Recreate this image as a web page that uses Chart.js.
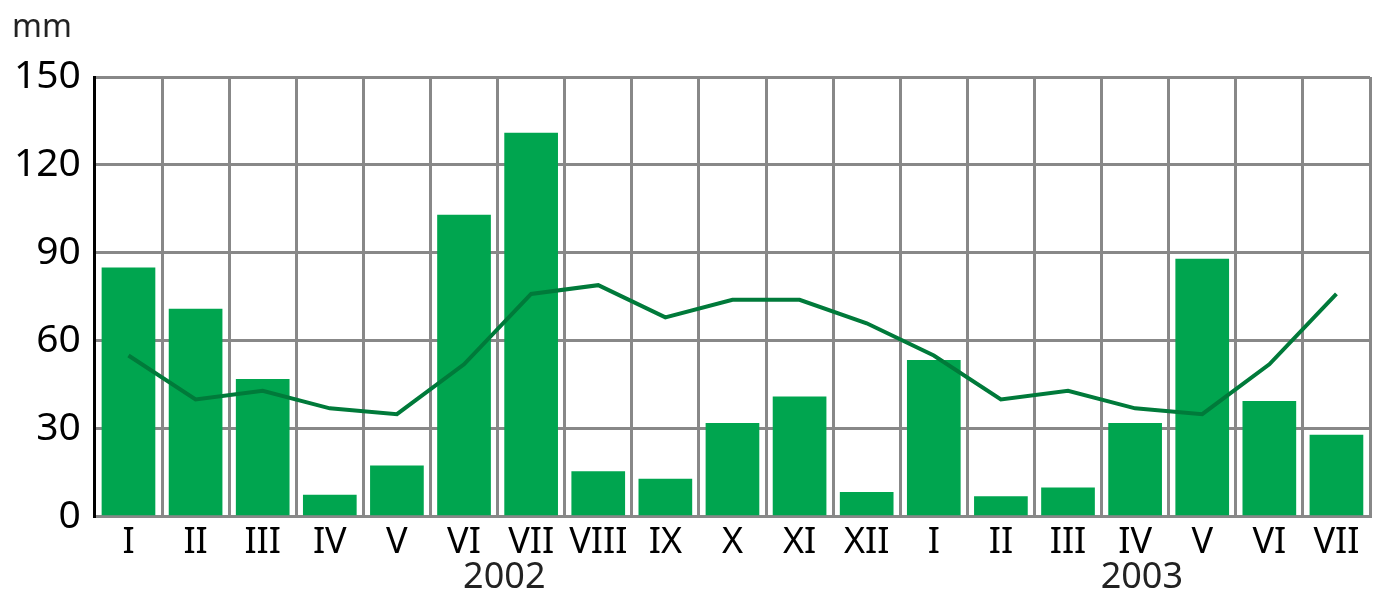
<!DOCTYPE html>
<html>
<head>
<meta charset="utf-8">
<script src="https://cdn.jsdelivr.net/npm/chart.js@4/dist/chart.umd.min.js"></script>
<style>
  html, body { margin: 0; padding: 0; background: #fff; }
  #wrap { width: 1378px; height: 592px; }
</style>
</head>
<body>
<div id="wrap"><canvas id="chart"></canvas></div>
<script>
// months, two years
const months = ['I','II','III','IV','V','VI','VII','VIII','IX','X','XI','XII','I','II','III','IV','V','VI','VII'];
// monthly precipitation (bars)
const precipitation = [85, 71, 47, 7.5, 17.5, 103, 131, 15.5, 13, 32, 41, 8.5, 53.5, 7, 10, 32, 88, 39.5, 28];
// long-term average (line)
const average = [55, 40, 43, 37, 35, 52, 76, 79, 68, 74, 74, 66, 55, 40, 43, 37, 35, 52, 76];
const yTicks = [0, 30, 60, 90, 120, 150];
const years = ['2002', '2003'];

const font = "'Noto Sans', sans-serif";

// unit label and year labels
const extraText = {
  id: 'extraText',
  afterDraw(chart) {
    const ctx = chart.ctx;
    const x = chart.scales.x;
    ctx.save();
    ctx.fillStyle = '#222';
    ctx.font = '32px ' + font;
    ctx.textAlign = 'left';
    ctx.textBaseline = 'alphabetic';
    ctx.fillText('mm', 12, 37);
    ctx.font = '36px ' + font;
    ctx.textAlign = 'center';
    ctx.fillText(years[0], x.getPixelForValue(5.6), 588);
    ctx.fillText(years[1], x.getPixelForValue(15.1), 588);
    ctx.restore();
  }
};

new Chart(document.getElementById('chart'), {
  data: {
    labels: months,
    datasets: [
      {
        type: 'line',
        data: average,
        borderColor: '#007a3a',
        borderWidth: 4,
        pointRadius: 0,
        tension: 0,
        order: 0
      },
      {
        type: 'bar',
        data: precipitation,
        backgroundColor: '#00a54f',
        borderWidth: 0,
        barPercentage: 0.8,
        categoryPercentage: 1,
        order: 1
      }
    ]
  },
  options: {
    responsive: true,
    maintainAspectRatio: false,
    animation: false,
    layout: { padding: { top: 77, right: 8, left: 0, bottom: 24 } },
    plugins: { legend: { display: false }, tooltip: { enabled: false } },
    scales: {
      x: {
        offset: true,
        grid: { offset: true, color: '#888', lineWidth: 3, drawTicks: false },
        border: { color: '#888', width: 3 },
        ticks: { color: '#000', font: { family: font, size: 36 }, padding: 4, maxRotation: 0, autoSkip: false }
      },
      y: {
        min: 0,
        max: 150,
        afterBuildTicks(axis) { axis.ticks = yTicks.map(v => ({ value: v })); },
        grid: { color: '#888', lineWidth: 3, drawTicks: false },
        border: { color: '#000', width: 3 },
        ticks: { color: '#000', font: { family: font, size: 39 }, padding: 14 }
      }
    }
  },
  plugins: [extraText]
});
</script>
</body>
</html>
